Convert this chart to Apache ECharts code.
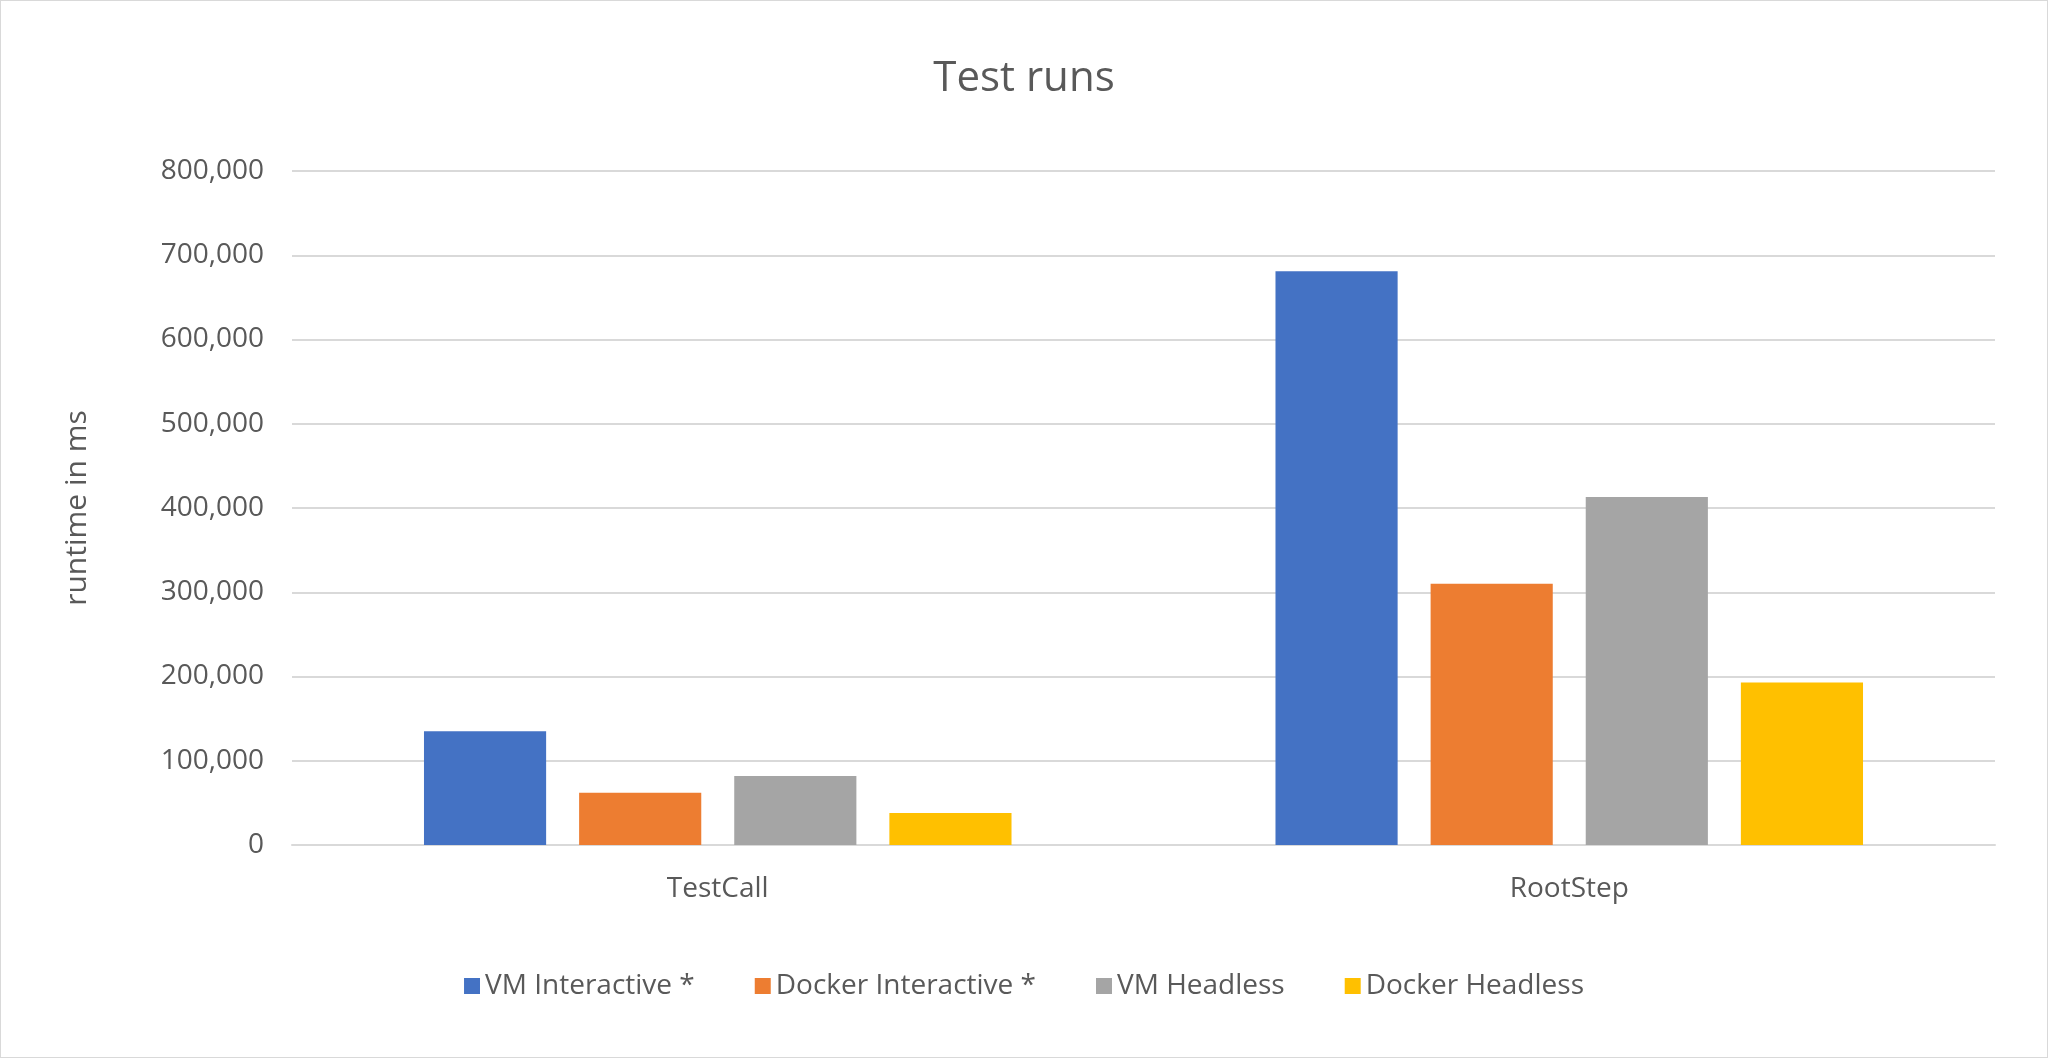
<!DOCTYPE html>
<html><head><meta charset="utf-8">
<script src="https://cdn.jsdelivr.net/npm/echarts@6/dist/echarts.min.js"></script>
<style>html,body{margin:0;padding:0;background:#fff}
#c{width:2046px;height:1056px;border:1px solid #d9d9d9}</style>
</head><body><div id="c"></div>
<script>
var categories = ['TestCall', 'RootStep'];
var seriesNames = ['VM Interactive *', 'Docker Interactive *', 'VM Headless', 'Docker Headless'];
var colors = ['#4472c4', '#ed7d31', '#a5a5a5', '#ffc000'];
var vmInteractive = [135000, 681000];
var dockerInteractive = [62000, 310000];
var vmHeadless = [82000, 413000];
var dockerHeadless = [38000, 193000];
var allValues = [vmInteractive, dockerInteractive, vmHeadless, dockerHeadless];

var chart = echarts.init(document.getElementById('c'));
var font = 'Segoe UI, "Open Sans", "Noto Sans", sans-serif';
chart.setOption({
  animation: false,
  color: colors,
  textStyle: {fontFamily: font},
  title: {text: 'Test runs', left: 'center', top: 52,
    textStyle: {fontSize: 42, fontWeight: 'normal', color: '#595959', fontFamily: font}},
  legend: {bottom: 52, itemWidth: 16, itemHeight: 16, itemGap: 60, icon: 'rect',
    textStyle: {fontSize: 28, color: '#595959'}},
  grid: {left: 291, right: 52, top: 170, bottom: 212},
  xAxis: {type: 'category', data: categories,
    axisLine: {lineStyle: {color: '#d9d9d9', width: 2}}, axisTick: {show: false},
    axisLabel: {fontSize: 28, color: '#595959', margin: 30}},
  yAxis: {type: 'value', min: 0, max: 800000, interval: 100000,
    name: 'runtime in ms', nameLocation: 'middle', nameGap: 200,
    nameTextStyle: {fontSize: 30, color: '#595959'},
    axisLabel: {fontSize: 28, color: '#595959', margin: 28},
    splitLine: {lineStyle: {color: '#d9d9d9', width: 2}}},
  series: seriesNames.map(function (n, i) {
    return {name: n, type: 'bar', data: allValues[i], barGap: '27%', barCategoryGap: '31%'};
  })
});
</script></body></html>
